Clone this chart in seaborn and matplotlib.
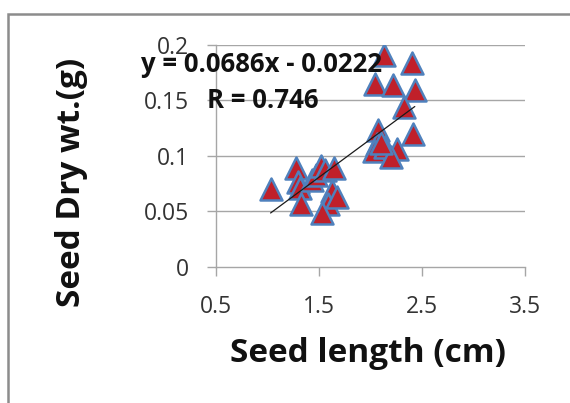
import matplotlib
matplotlib.use("Agg")
import matplotlib.pyplot as plt
import seaborn as sns
import numpy as np
import pandas as pd
from matplotlib.patches import Rectangle

# ---- data ----
seed_length = [1.03, 1.28, 1.30, 1.32, 1.33, 1.43, 1.47, 1.52, 1.56, 1.65,
               1.63, 1.59, 1.67, 1.53,
               2.13, 2.40, 2.04, 2.22, 2.43, 2.33, 2.41, 2.07, 2.06, 2.03,
               2.14, 2.26, 2.20, 2.10]
seed_dry_wt = [0.070, 0.089, 0.076, 0.071, 0.057, 0.078, 0.083, 0.091, 0.087, 0.089,
               0.068, 0.057, 0.063, 0.048,
               0.191, 0.184, 0.165, 0.164, 0.159, 0.144, 0.120, 0.123, 0.111, 0.104,
               0.108, 0.106, 0.099, 0.112]
slope = 0.0686
intercept = -0.0222
r_value = 0.746
x_ticks = [0.5, 1.5, 2.5, 3.5]
y_ticks = [0, 0.05, 0.1, 0.15, 0.2]
y_tick_labels = ["0", "0.05", "0.1", "0.15", "0.2"]
x_tick_labels = ["0.5", "1.5", "2.5", "3.5"]

df = pd.DataFrame({"Seed length (cm)": seed_length, "Seed Dry wt.(g)": seed_dry_wt})

sns.set_theme(style="white")
plt.rcParams["font.family"] = ["Open Sans", "DejaVu Sans"]

fig = plt.figure(figsize=(5.7, 4.03), dpi=100)
ax = fig.add_axes([216/570, 1-266.7/403, 309/570, 221.7/403])

grid_c = "#a6a6a6"
for yv in y_ticks[1:]:
    ax.axhline(yv, color=grid_c, lw=1.0, zorder=0)

sns.scatterplot(data=df, x="Seed length (cm)", y="Seed Dry wt.(g)", ax=ax,
                marker="^", s=250, color="#C0202A", edgecolor="#4F81BD",
                linewidth=1.8, zorder=2, legend=False)

# trend line over data range
xs = np.array([min(seed_length), max(seed_length)])
ax.plot(xs, slope*xs + intercept, color="#1a1a1a", lw=0.9, zorder=4)

ax.set_xlim(0.5, 3.5)
ax.set_ylim(0, 0.2)
ax.set_xticks(x_ticks)
ax.set_xticklabels(x_tick_labels)
ax.set_yticks(y_ticks)
ax.set_yticklabels(y_tick_labels)

for s in ["top", "right"]:
    ax.spines[s].set_visible(False)
for s in ["left", "bottom"]:
    ax.spines[s].set_color(grid_c)
    ax.spines[s].set_linewidth(1.0)

ax.tick_params(axis="both", which="major", length=6.5, width=1.0, color=grid_c,
               labelsize=16.5, labelcolor="#333333", direction="out")
ax.tick_params(axis="y", pad=13, left=True)
ax.tick_params(axis="x", pad=14, bottom=True)

ax.set_xlabel("Seed length (cm)", fontsize=24, fontweight="bold", color="#111111",
              ha="center", va="center")
ax.set_ylabel("Seed Dry wt.(g)", fontsize=24, fontweight="bold", color="#111111",
              ha="center", va="center")
ax.xaxis.set_label_coords((368-216)/309, (266.7-354)/221.7)
ax.yaxis.set_label_coords((71-216)/309, 1-(182-45)/221.7)

ax.text((141-216)/309, (266.7-65)/221.7, f"y = {slope}x - {abs(intercept)}",
        transform=ax.transAxes, fontsize=18.5, fontweight="bold", color="#111111",
        ha="left", va="center", zorder=5)
ax.text((207-216)/309, (266.7-100)/221.7, f"R = {r_value}",
        transform=ax.transAxes, fontsize=18.5, fontweight="bold", color="#111111",
        ha="left", va="center", zorder=5)

# outer chart border (extends beyond the cropped image)
fig.patches.append(Rectangle((8/570, -0.1), 1.2, 1-14/403+0.1, transform=fig.transFigure,
                             fill=False, edgecolor="#8c8c8c", lw=1.8, zorder=0))

fig.savefig("out.png", dpi=100, facecolor="white")
